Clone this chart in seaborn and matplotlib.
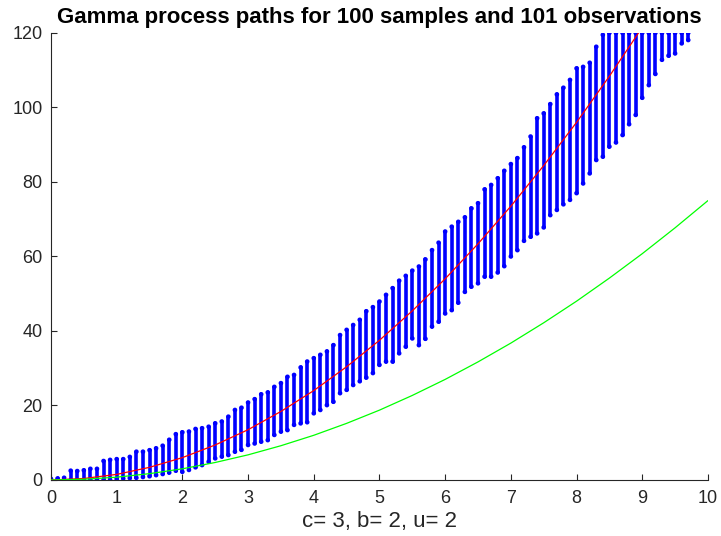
import matplotlib
matplotlib.use("Agg")
import matplotlib.pyplot as plt
import seaborn as sns

# ── Data ─────────────────────────────────────────────────────────────────────
# observation times that still have samples below the 120 cut-off
obs_t = [
    0.0, 0.1, 0.2, 0.3, 0.4, 0.5, 0.6, 0.7, 0.8, 0.9,
    1.0, 1.1, 1.2, 1.3, 1.4, 1.5, 1.6, 1.7, 1.8, 1.9,
    2.0, 2.1, 2.2, 2.3, 2.4, 2.5, 2.6, 2.7, 2.8, 2.9,
    3.0, 3.1, 3.2, 3.3, 3.4, 3.5, 3.6, 3.7, 3.8, 3.9,
    4.0, 4.1, 4.2, 4.3, 4.4, 4.5, 4.6, 4.7, 4.8, 4.9,
    5.0, 5.1, 5.2, 5.3, 5.4, 5.5, 5.6, 5.7, 5.8, 5.9,
    6.0, 6.1, 6.2, 6.3, 6.4, 6.5, 6.6, 6.7, 6.8, 6.9,
    7.0, 7.1, 7.2, 7.3, 7.4, 7.5, 7.6, 7.7, 7.8, 7.9,
    8.0, 8.1, 8.2, 8.3, 8.4, 8.5, 8.6, 8.7, 8.8, 8.9,
    9.0, 9.1, 9.2, 9.3, 9.4, 9.5, 9.6, 9.7,
]

# lowest sample value at each observation
sample_min = [
    0.0, 0.0, 0.0, 0.0, 0.0, 0.0, 0.0, 0.0, 0.0, 0.0,
    0.3, 0.4, 0.5, 0.6, 0.8, 1.0, 1.3, 1.6, 2.0, 2.5,
    2.2, 2.7, 3.4, 4.0, 4.9, 5.8, 6.3, 6.7, 7.6, 8.1,
    9.4, 9.8, 10.3, 10.7, 12.1, 13.0, 13.4, 14.8, 15.2, 15.5,
    17.9, 18.8, 20.1, 21.0, 23.3, 24.2, 25.5, 26.5, 27.5, 28.7,
    30.9, 31.8, 31.8, 34.0, 35.8, 38.0, 36.2, 37.9, 41.2, 42.5,
    44.7, 45.6, 47.6, 50.5, 51.9, 52.8, 54.6, 54.6, 55.7, 57.4,
    60.0, 61.7, 64.2, 65.3, 66.2, 67.8, 71.1, 72.5, 74.0, 75.2,
    77.0, 79.6, 82.3, 85.9, 86.8, 89.5, 90.6, 92.6, 95.5, 98.0,
    102.6, 106.0, 109.0, 112.8, 113.9, 114.5, 117.2, 118.1,
]

# highest visible sample value at each observation (120 = clipped at top)
sample_max = [
    0.3, 0.4, 0.6, 2.5, 2.4, 2.6, 3.0, 3.0, 5.1, 5.4,
    5.6, 5.6, 6.2, 7.6, 7.6, 8.0, 8.5, 9.2, 10.8, 12.3,
    12.8, 13.0, 13.7, 13.9, 14.3, 15.2, 15.7, 17.0, 18.8, 19.4,
    20.8, 21.7, 23.0, 23.5, 25.0, 26.0, 27.7, 28.2, 30.2, 31.8,
    32.7, 33.6, 34.5, 36.2, 38.9, 40.3, 41.6, 43.0, 45.3, 46.4,
    47.9, 49.7, 51.5, 53.5, 54.8, 56.2, 57.3, 59.2, 61.7, 63.7,
    66.7, 68.0, 69.3, 70.5, 72.9, 74.3, 78.0, 79.2, 81.0, 83.0,
    84.8, 86.4, 89.3, 92.2, 97.1, 98.4, 100.9, 103.5, 105.3, 107.4,
    110.5, 110.9, 112.0, 116.3, 119.5, 120.0, 120.0, 120.0, 120.0, 120.0,
    120.0, 120.0, 120.0, 120.0, 120.0, 120.0, 120.0, 120.0,
]

# red: sample mean path, green: reference curve
curve_t = [0.0, 0.5, 1.0, 1.5, 2.0, 2.5, 3.0, 3.5, 4.0, 4.5, 5.0,
           5.5, 6.0, 6.5, 7.0, 7.5, 8.0, 8.5, 9.0, 9.5, 10.0]
mean_path = [0.0, 0.4, 1.5, 3.4, 6.0, 9.4, 13.5, 18.4, 24.0, 30.4, 37.5,
             45.4, 54.0, 63.4, 73.5, 84.4, 96.0, 108.4, 121.5, 135.4, 150.0]
ref_path = [0.0, 0.2, 0.75, 1.7, 3.0, 4.7, 6.75, 9.2, 12.0, 15.2, 18.75,
            22.7, 27.0, 31.7, 36.75, 42.2, 48.0, 54.2, 60.75, 67.7, 75.0]

TITLE = "Gamma process paths for 100 samples and 101 observations"
XLABEL = "c= 3, b= 2, u= 2"
AXIS_GREY = "#262626"

# ── Style ────────────────────────────────────────────────────────────────────
sns.set_style("ticks")
plt.rcParams["font.family"] = ["Liberation Sans", "DejaVu Sans"]
plt.rcParams["xtick.direction"] = "in"
plt.rcParams["ytick.direction"] = "in"

fig = plt.figure(figsize=(7.21, 5.36), dpi=100)
ax = fig.add_axes([0.0707, 0.1045, 0.9112, 0.834])

# ── Marks ────────────────────────────────────────────────────────────────────
# each observation's samples pile up into a vertical stripe of dots
ax.vlines(obs_t, sample_min, sample_max, colors="#0000ff",
          linewidth=2.6, capstyle="round", zorder=2)
sns.scatterplot(x=obs_t + obs_t, y=sample_min + sample_max, ax=ax,
                color="#0000ff", s=11, edgecolor="none", zorder=2,
                legend=False)
sns.lineplot(x=curve_t, y=mean_path, ax=ax, color="#ff0000",
             linewidth=0.9, zorder=3)
sns.lineplot(x=curve_t, y=ref_path, ax=ax, color="#00ff00",
             linewidth=0.9, zorder=3)

# ── Axes ─────────────────────────────────────────────────────────────────────
ax.set_xlim(0, 10)
ax.set_ylim(0, 120)
ax.set_xticks(range(0, 11))
ax.set_yticks(range(0, 121, 20))
sns.despine(ax=ax)
for side in ("left", "bottom"):
    ax.spines[side].set_color(AXIS_GREY)
    ax.spines[side].set_linewidth(0.8)
ax.tick_params(axis="both", colors=AXIS_GREY, labelsize=13, length=4,
               width=0.8)
ax.tick_params(axis="x", pad=7)
ax.tick_params(axis="y", pad=6)

ax.set_xlabel(XLABEL, fontsize=16, color=AXIS_GREY, labelpad=3)
ax.set_ylabel("")
ax.set_title(TITLE, fontsize=16, fontweight="bold", color="black", pad=7)

fig.savefig("out.png", dpi=100)
